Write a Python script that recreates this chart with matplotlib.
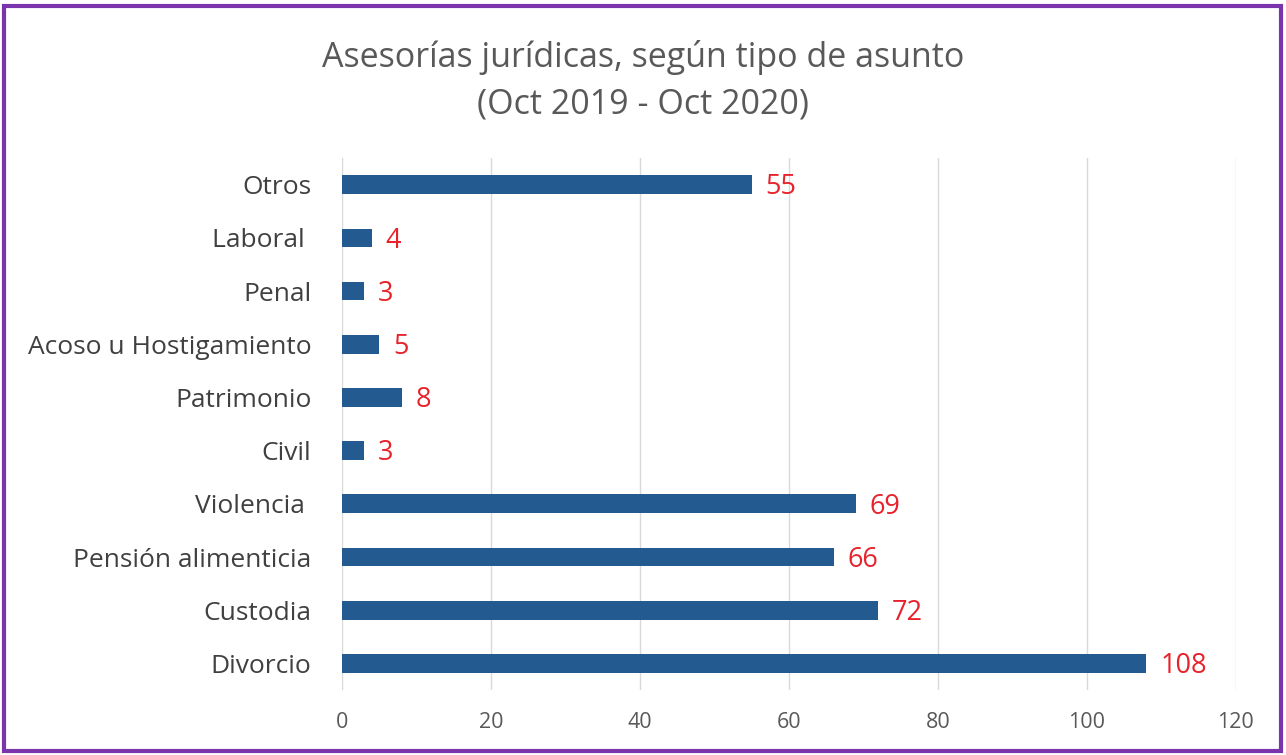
import numpy as np
import matplotlib.pyplot as plt
from matplotlib.patches import Rectangle

categories = ['Divorcio', 'Custodia', 'Pensión alimenticia', 'Violencia ', 'Civil',
              'Patrimonio', 'Acoso u Hostigamiento', 'Penal', 'Laboral ', 'Otros']
values = [108, 72, 66, 69, 3, 8, 5, 3, 4, 55]
xticks = [0, 20, 40, 60, 80, 100, 120]

plt.rcParams['font.family'] = ['Open Sans', 'DejaVu Sans']

fig = plt.figure(figsize=(12.86, 7.55), dpi=100)
ax = fig.add_axes([0.266, 0.0861, 0.695, 0.7046])

y = np.arange(len(categories))
ax.barh(y, values, height=0.35, color='#235a8f', zorder=3)
for yi, v in zip(y, values):
    ax.annotate(str(v), (v, yi), xytext=(10, -2), textcoords='offset points',
                ha='left', va='center', color='#e8222b', fontsize=19.5)

ax.set_xlim(0, 120)
ax.set_ylim(-0.5, len(categories) - 0.5)
ax.set_xticks(xticks)
ax.set_yticks(y)
ax.set_yticklabels(categories, fontsize=19, color='#404040')
ax.tick_params(axis='x', labelsize=15.5, colors='#595959', length=0, pad=16)
ax.tick_params(axis='y', length=0, pad=22)
ax.grid(axis='x', color='#d9d9d9', linewidth=1, zorder=0)
for s in ax.spines.values():
    s.set_visible(False)

fig.text(0.5, 0.924, 'Asesorías jurídicas, según tipo de asunto', ha='center', va='center',
         fontsize=24.5, color='#595959')
fig.text(0.5, 0.862, '(Oct 2019 - Oct 2020)', ha='center', va='center',
         fontsize=24.5, color='#595959')

fig.patches.append(Rectangle((4 / 1286, 4 / 755), 1277 / 1286, 745 / 755,
                             transform=fig.transFigure, fill=False,
                             edgecolor='#7a35ad', linewidth=3))

fig.savefig('out.png', dpi=100)
